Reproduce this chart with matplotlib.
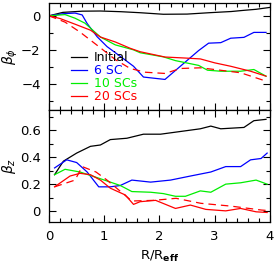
import numpy as np
from matplotlib import pyplot as plt
from matplotlib.ticker import MultipleLocator

plt.rcParams['font.family'] = ['DejaVu Sans']
plt.rcParams['mathtext.fontset'] = 'dejavusans'

# ---- beta_phi (top panel)
xp_init = [0.0, 0.25, 0.6, 0.93, 1.3, 1.65, 2.07, 2.5, 2.9, 3.3, 3.53, 3.75, 4.0]
bp_init = [0.0, 0.2, 0.27, 0.28, 0.24, 0.18, 0.09, 0.1, 0.18, 0.25, 0.32, 0.38, 0.49]

xp_6 = [0.0, 0.25, 0.47, 0.6, 0.69, 0.87, 1.05, 1.29, 1.53, 1.71, 2.1, 2.71, 2.89, 3.11, 3.29, 3.53, 3.71, 3.93]
bp_6 = [0.0, 0.12, 0.16, 0.05, -0.45, -1.22, -1.8, -2.37, -2.95, -3.58, -3.72, -2.03, -1.6, -1.57, -1.31, -1.26, -0.97, -0.97]

xp_10 = [0.0, 0.29, 0.47, 0.65, 0.93, 1.2, 1.53, 1.65, 2.07, 2.29, 2.71, 2.87, 3.11, 3.47, 3.71, 3.93]
bp_10 = [0.0, 0.07, -0.14, -0.43, -1.24, -1.7, -1.99, -2.16, -2.4, -2.62, -2.9, -3.18, -3.24, -3.24, -3.14, -3.53]

xp_20 = [0.0, 0.2, 0.47, 0.75, 0.93, 1.2, 1.47, 1.65, 2.1, 2.47, 2.74, 3.0, 3.29, 3.65, 3.93]
bp_20 = [0.0, -0.16, -0.49, -0.84, -1.24, -1.53, -1.9, -2.1, -2.41, -2.47, -2.52, -2.75, -2.95, -3.24, -3.53]

xp_20d = [0.0, 0.29, 0.56, 0.93, 1.2, 1.47, 1.75, 2.1, 2.38, 2.74, 3.0, 3.47, 3.93]
bp_20d = [0.0, -0.37, -0.95, -1.87, -2.56, -3.08, -3.3, -3.37, -3.08, -3.04, -3.14, -3.33, -3.82]

# ---- beta_z (bottom panel)
xz_init = [0.1, 0.26, 0.5, 0.75, 0.93, 1.11, 1.41, 1.71, 2.02, 2.38, 2.74, 2.93, 3.11, 3.53, 3.71, 3.93]
bz_init = [0.27, 0.37, 0.43, 0.48, 0.49, 0.53, 0.54, 0.57, 0.57, 0.59, 0.61, 0.63, 0.61, 0.62, 0.67, 0.68]

xz_6 = [0.1, 0.32, 0.5, 0.69, 0.9, 1.11, 1.29, 1.5, 1.84, 2.2, 2.56, 2.93, 3.2, 3.47, 3.65, 3.84, 3.95]
bz_6 = [0.32, 0.38, 0.36, 0.29, 0.18, 0.18, 0.19, 0.23, 0.215, 0.23, 0.26, 0.29, 0.33, 0.33, 0.38, 0.39, 0.43]

xz_10 = [0.1, 0.29, 0.56, 0.93, 1.29, 1.5, 1.84, 2.07, 2.29, 2.47, 2.74, 2.93, 3.2, 3.47, 3.75, 3.95]
bz_10 = [0.27, 0.31, 0.29, 0.24, 0.19, 0.145, 0.14, 0.13, 0.11, 0.11, 0.15, 0.14, 0.2, 0.21, 0.23, 0.2]

xz_20 = [0.1, 0.38, 0.56, 0.75, 0.93, 1.11, 1.38, 1.53, 1.65, 1.93, 2.29, 2.56, 2.84, 3.2, 3.47, 3.75, 3.95]
bz_20 = [0.18, 0.26, 0.28, 0.27, 0.23, 0.17, 0.12, 0.05, 0.07, 0.08, 0.02, 0.045, 0.013, 0.002, 0.02, -0.005, -0.01]

xz_20d = [0.1, 0.47, 0.6, 0.85, 1.05, 1.5, 1.9, 2.3, 2.75, 3.3, 3.85, 3.95]
bz_20d = [0.18, 0.23, 0.33, 0.29, 0.23, 0.075, 0.08, 0.095, 0.058, 0.037, 0.008, 0.005]

labels = ['Initial', '6 SC', '10 SCs', '20 SCs']
cols = ['black', '#0000ff', '#00ee00', '#ff0000']

fig = plt.figure(figsize=(2.74, 2.70), dpi=100)
ax1 = fig.add_axes([0.179, 0.593, 0.806, 0.396])
ax2 = fig.add_axes([0.179, 0.178, 0.806, 0.415])

lw = 0.9
ax1.plot(xp_init, bp_init, color=cols[0], lw=lw, label=labels[0])
ax1.plot(xp_6, bp_6, color=cols[1], lw=lw, label=labels[1])
ax1.plot(xp_10, bp_10, color=cols[2], lw=lw, label=labels[2])
ax1.plot(xp_20, bp_20, color=cols[3], lw=lw, label=labels[3])
ax1.plot(xp_20d, bp_20d, color=cols[3], lw=lw, ls=(0, (6, 4)))

ax2.plot(xz_init, bz_init, color=cols[0], lw=lw)
ax2.plot(xz_6, bz_6, color=cols[1], lw=lw)
ax2.plot(xz_10, bz_10, color=cols[2], lw=lw)
ax2.plot(xz_20, bz_20, color=cols[3], lw=lw)
ax2.plot(xz_20d, bz_20d, color=cols[3], lw=lw, ls=(0, (6, 4)))

ax1.set_xlim(0, 4)
ax2.set_xlim(0, 4)
ax1.set_ylim(-5.5, 0.75)
ax2.set_ylim(-0.08, 0.75)

for ax in (ax1, ax2):
    ax.xaxis.set_major_locator(MultipleLocator(1))
    ax.xaxis.set_minor_locator(MultipleLocator(0.2))
    ax.tick_params(which='both', direction='in', top=True, right=True, labelsize=9.5, width=0.8)
    ax.tick_params(which='major', length=5, pad=6)
    ax.tick_params(which='minor', length=3)
    for s in ax.spines.values():
        s.set_linewidth(0.9)

ax1.yaxis.set_minor_locator(MultipleLocator(1))
ax1.set_yticks([0, -2, -4])
ax1.set_yticklabels(['0', '\u22122', '\u22124'])
ax1.tick_params(labelbottom=False)

ax2.yaxis.set_minor_locator(MultipleLocator(0.1))
ax2.set_yticks([0, 0.2, 0.4, 0.6])
ax2.set_yticklabels(['0', '0.2', '0.4', '0.6'])

ax1.set_ylabel(r'$\beta_\phi$', fontsize=10, labelpad=1)
ax2.set_ylabel(r'$\beta_z$', fontsize=10, labelpad=1)
ax2.set_xlabel(r'R/R$_{\mathbf{eff}}$', fontsize=9.5, labelpad=4)

leg = ax1.legend(loc='lower left', bbox_to_anchor=(0.06, -0.02), frameon=False,
                 fontsize=9, handlelength=1.3, handletextpad=0.5, labelspacing=0.0,
                 labelcolor='linecolor', borderpad=0.2)

plt.savefig('out.png', dpi=100)
